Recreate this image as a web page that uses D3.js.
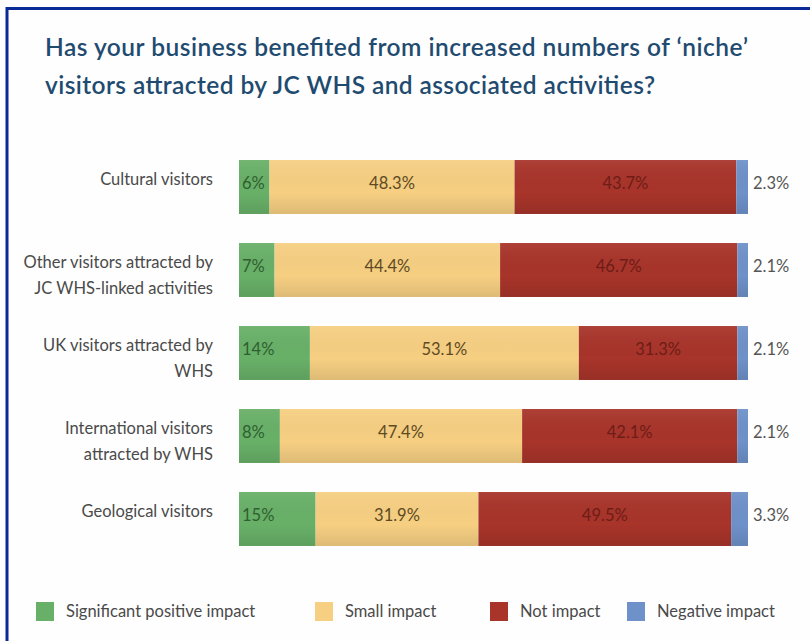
<!DOCTYPE html>
<html>
<head>
<meta charset="utf-8">
<script src="https://cdn.jsdelivr.net/npm/d3@7"></script>
<style>
  html, body { margin: 0; padding: 0; background: #ffffff; }
  svg { display: block; }
</style>
</head>
<body>
<svg id="chart" width="810" height="641"></svg>
<script>
// ---- Data ----
const categories = [
  ["Cultural visitors"],
  ["Other visitors attracted by", "JC WHS-linked activities"],
  ["UK visitors attracted by", "WHS"],
  ["International visitors", "attracted by WHS"],
  ["Geological visitors"]
];
const seriesNames = ["Significant positive impact", "Small impact", "Not impact", "Negative impact"];
const significantPositive = [6, 7, 14, 8, 15];
const smallImpact = [48.3, 44.4, 53.1, 47.4, 31.9];
const notImpact = [43.7, 46.7, 31.3, 42.1, 49.5];
const negativeImpact = [2.3, 2.1, 2.1, 2.1, 3.3];
const titleLines = [
  "Has your business benefited from increased numbers of \u2018niche\u2019",
  "visitors attracted by JC WHS and associated activities?"
];

// ---- Styles ----
const colors = ["#68b068", "#f6cf82", "#a8342a", "#6e91c9"];
const labelColors = ["#2f5f30", "#5e4a22", "#6e1c16", "#555555"];
const font = "Lato, 'Open Sans', sans-serif";
const titleWidths = [703, 610];

const svg = d3.select("#chart");
const W = 810, H = 641;

svg.append("rect").attr("width", W).attr("height", H).attr("fill", "#fefefe");
// border (top and left visible)
svg.append("rect").attr("x", 7).attr("y", 8.5).attr("width", W + 10).attr("height", H + 10)
  .attr("fill", "none").attr("stroke", "#0a2a96").attr("stroke-width", 3);

// gradient for bar shading
const defs = svg.append("defs");
const grad = defs.append("linearGradient").attr("id", "shade").attr("x1", 0).attr("y1", 0).attr("x2", 0).attr("y2", 1);
grad.append("stop").attr("offset", "0%").attr("stop-color", "#ffffff").attr("stop-opacity", 0.06);
grad.append("stop").attr("offset", "60%").attr("stop-color", "#000000").attr("stop-opacity", 0.0);
grad.append("stop").attr("offset", "100%").attr("stop-color", "#000000").attr("stop-opacity", 0.10);

// title
svg.append("g").selectAll("text").data(titleLines).join("text")
  .attr("x", 45).attr("y", (d, i) => 56 + i * 38)
  .attr("fill", "#1f4b70")
  .attr("font-family", font).attr("font-size", 24.5).attr("font-weight", 600)
  .attr("textLength", (d, i) => titleWidths[i]).attr("lengthAdjust", "spacing")
  .text(d => d);

// rows
const rows = categories.map((c, i) => {
  const vals = [significantPositive[i], smallImpact[i], notImpact[i], negativeImpact[i]];
  const total = d3.sum(vals);
  let acc = 0;
  const segs = vals.map((v, k) => {
    const s = { key: k, value: v, x0: acc / total * 100, x1: (acc + v) / total * 100 };
    acc += v;
    return s;
  });
  return { index: i, label: c, segs };
});

const x = d3.scaleLinear().domain([0, 100]).range([239, 748]);
const y = d3.scaleBand().domain(d3.range(categories.length)).range([145.5, 560.5])
  .paddingInner(0.35).paddingOuter(0.175);

const rowG = svg.append("g").selectAll("g").data(rows).join("g")
  .attr("transform", d => `translate(0,${y(d.index)})`);

rowG.selectAll("rect.seg").data(d => d.segs).join("rect")
  .attr("class", "seg")
  .attr("x", d => x(d.x0)).attr("width", d => x(d.x1) - x(d.x0))
  .attr("y", 0).attr("height", y.bandwidth())
  .attr("fill", d => colors[d.key]);

rowG.append("rect")
  .attr("x", x(0)).attr("width", x(100) - x(0))
  .attr("y", 0).attr("height", y.bandwidth())
  .attr("fill", "url(#shade)");

rowG.selectAll("text.val").data(d => d.segs).join("text")
  .attr("class", "val")
  .attr("x", d => d.key === 0 ? x(d.x0) + 3 : d.key === 3 ? x(d.x1) + 5 : (x(d.x0) + x(d.x1)) / 2)
  .attr("y", y.bandwidth() / 2 - 4)
  .attr("dy", "0.35em")
  .attr("text-anchor", d => (d.key === 0 || d.key === 3) ? "start" : "middle")
  .attr("fill", d => labelColors[d.key])
  .attr("font-family", font).attr("font-size", 16.5)
  .text(d => `${d.value}%`);

// category labels
rowG.append("text")
  .attr("text-anchor", "end")
  .attr("fill", "#4a4a4a")
  .attr("font-family", font).attr("font-size", 16.5)
  .selectAll("tspan").data(d => d.label).join("tspan")
  .attr("x", 213)
  .attr("y", (d, i) => 25 + i * 25.5)
  .text(d => d);

// legend
const legendX = [36, 315, 490, 627];
const lg = svg.append("g").selectAll("g").data(seriesNames).join("g")
  .attr("transform", (d, i) => `translate(${legendX[i]},602)`);
lg.append("rect").attr("width", 18).attr("height", 19).attr("fill", (d, i) => colors[i]);
lg.append("text").attr("x", 30).attr("y", 9).attr("dy", "0.35em")
  .attr("fill", "#4a4a4a").attr("font-family", font).attr("font-size", 16.5)
  .text(d => d);
</script>
</body>
</html>
